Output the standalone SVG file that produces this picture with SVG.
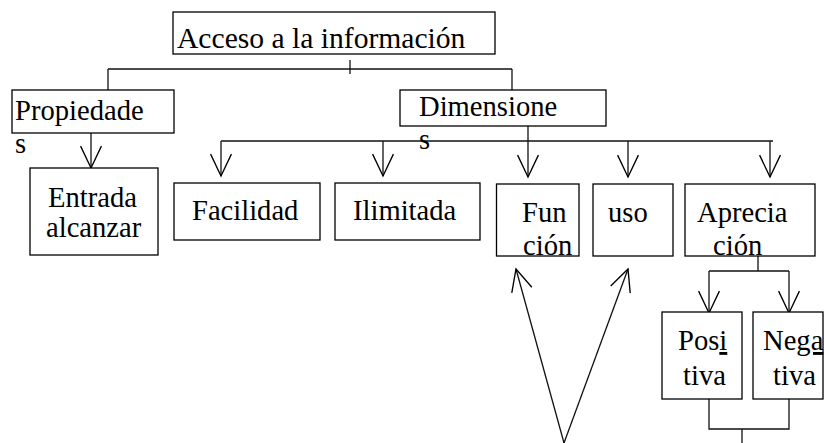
<svg xmlns="http://www.w3.org/2000/svg" width="824" height="443" viewBox="0 0 824 443">
<style>
.box{fill:#fff;stroke:#000;stroke-width:1.3}
.t{font-family:'Liberation Serif','Times New Roman',Times,'DejaVu Serif',serif;font-size:28.6px;fill:#000}
.c{fill:none;stroke:#111;stroke-width:1.3}
.u{text-decoration:underline}
</style>
<defs>
<marker id="ah" markerUnits="userSpaceOnUse" markerWidth="26" markerHeight="26" viewBox="-23 -12 25 24" refX="0" refY="0" orient="auto">
<path d="M-21,-10 L0,0 L-21,10" fill="none" stroke="#000" stroke-width="1.3"/>
</marker>
</defs>
<rect width="824" height="443" fill="#fff"/>
<g id="connectors">
<line class="c" x1="108" y1="69" x2="512" y2="69"/>
<line class="c" x1="350" y1="60" x2="350" y2="74"/>
<line class="c" x1="108" y1="69" x2="108" y2="90"/>
<line class="c" x1="512" y1="69" x2="512" y2="90"/>
<line class="c" x1="91" y1="133" x2="91" y2="168" marker-end="url(#ah)"/>
<line class="c" x1="528" y1="126" x2="528" y2="177" marker-end="url(#ah)"/>
<line class="c" x1="221" y1="141" x2="773" y2="141"/>
<line class="c" x1="221" y1="141" x2="221" y2="176" marker-end="url(#ah)"/>
<line class="c" x1="383" y1="141" x2="383" y2="176" marker-end="url(#ah)"/>
<line class="c" x1="628" y1="141" x2="628" y2="177" marker-end="url(#ah)"/>
<line class="c" x1="770" y1="141" x2="770" y2="177" marker-end="url(#ah)"/>
<line class="c" x1="758" y1="256" x2="758" y2="271"/>
<line class="c" x1="709" y1="271" x2="789" y2="271"/>
<line class="c" x1="709" y1="271" x2="709" y2="313" marker-end="url(#ah)"/>
<line class="c" x1="789" y1="271" x2="789" y2="313" marker-end="url(#ah)"/>
<polyline class="c" points="709,399 709,429 789,429 789,399"/>
<line class="c" x1="742" y1="429" x2="742" y2="443"/>
<line class="c" x1="564" y1="443" x2="516" y2="269" marker-end="url(#ah)"/>
<line class="c" x1="564" y1="443" x2="628" y2="269" marker-end="url(#ah)"/>
</g>
<g id="acceso">
<rect class="box" x="173" y="12" width="322" height="42"/>
<text class="t" x="177" y="48" style="font-size:29.6px">Acceso a la información</text>
</g>
<g id="propiedades">
<rect class="box" x="12" y="90" width="162" height="43"/>
<text class="t" x="15" y="120">Propiedade</text>
<text class="t" x="15" y="153">s</text>
</g>
<g id="dimensiones">
<rect class="box" x="400" y="90" width="206" height="36"/>
<text class="t" x="419" y="116">Dimensione</text>
<text class="t" x="419" y="149">s</text>
</g>
<g id="entrada">
<rect class="box" x="30" y="168" width="128" height="87"/>
<text class="t" x="48" y="207">Entrada</text>
<text class="t" x="46" y="237">alcanzar</text>
</g>
<g id="facilidad">
<rect class="box" x="174" y="183" width="146" height="57"/>
<text class="t" x="192" y="220">Facilidad</text>
</g>
<g id="ilimitada">
<rect class="box" x="335" y="183" width="145" height="57"/>
<text class="t" x="353" y="220">Ilimitada</text>
</g>
<g id="funcion">
<text class="t" x="522" y="222">Fun</text>
<text class="t" x="523" y="255">ción</text>
<rect class="box" x="496.5" y="184" width="82.5" height="72" style="fill:none"/>
</g>
<g id="uso">
<rect class="box" x="593" y="184" width="80" height="72"/>
<text class="t" x="608" y="222">uso</text>
</g>
<g id="apreciacion">
<text class="t" x="697" y="222">Aprecia</text>
<text class="t" x="713" y="255">ción</text>
<rect class="box" x="685" y="184" width="130" height="72" style="fill:none"/>
</g>
<g id="positiva">
<rect class="box" x="662" y="312" width="80" height="87"/>
<text class="t" x="678" y="350">Pos<tspan class="u">i</tspan></text>
<text class="t" x="683" y="385">tiva</text>
</g>
<g id="negativa">
<rect class="box" x="753" y="312" width="70" height="87"/>
<text class="t" x="763" y="350">Ne<tspan class="u">ga</tspan></text>
<text class="t" x="773" y="385">tiva</text>
</g>
</svg>
